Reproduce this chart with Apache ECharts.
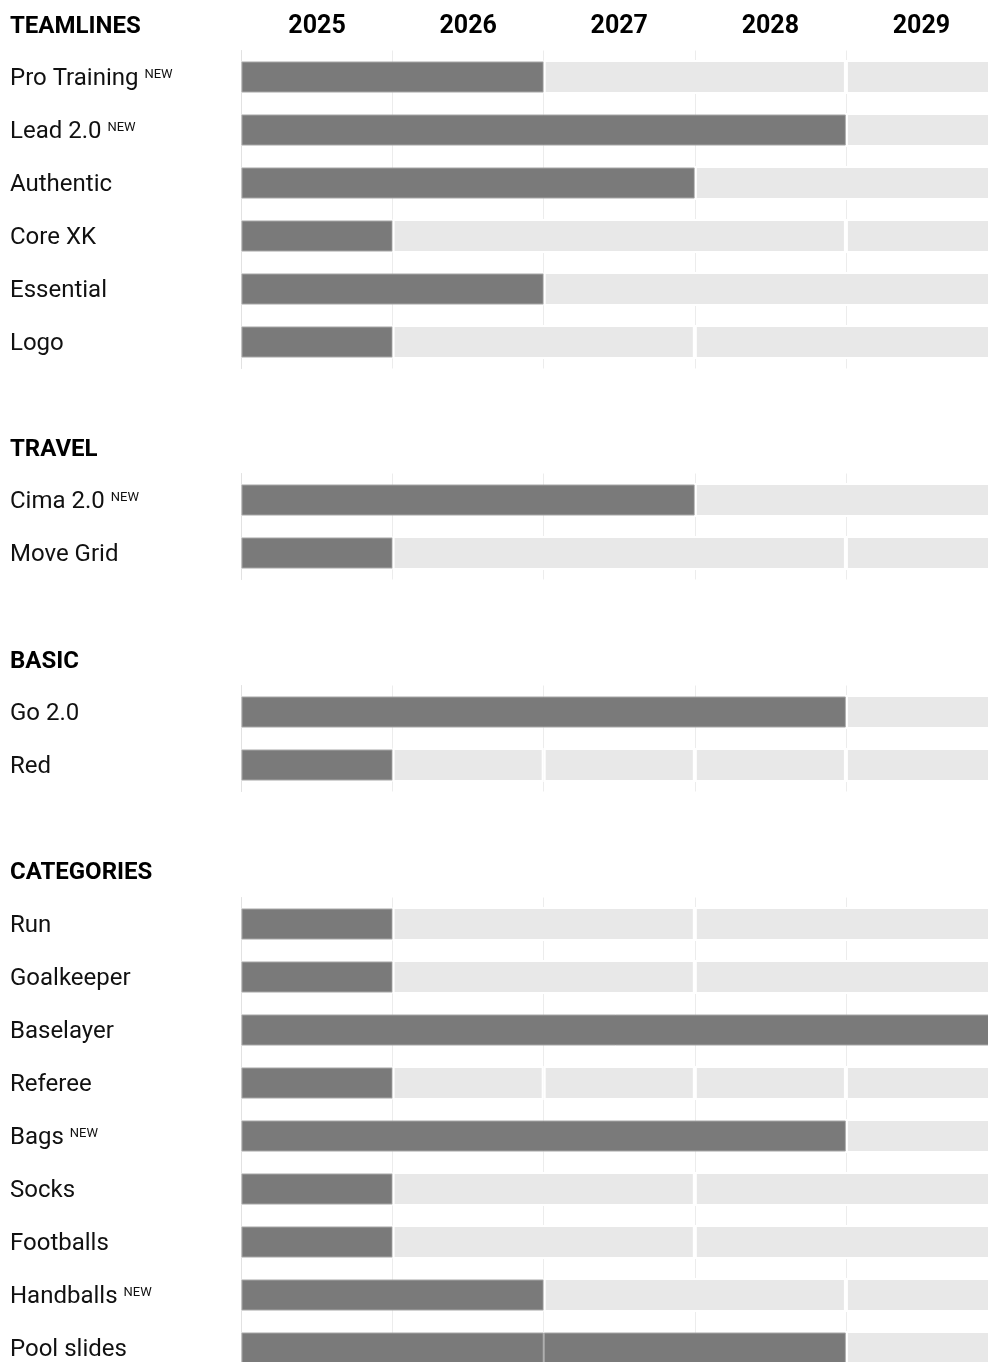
<!DOCTYPE html>
<html>
<head>
<meta charset="utf-8">
<script src="https://cdn.jsdelivr.net/npm/echarts@6/dist/echarts.min.js"></script>
<style>
  html, body { margin: 0; padding: 0; background: #ffffff; }
  #chart { width: 988px; height: 1362px; }
</style>
</head>
<body>
<div id="chart"></div>
<script>
// ---------- data ----------
const years = ['2025', '2026', '2027', '2028', '2029'];
const groupTitles = ['TEAMLINES', 'TRAVEL', 'BASIC', 'CATEGORIES'];

const teamlinesLabels = ['Pro Training', 'Lead 2.0', 'Authentic', 'Core XK', 'Essential', 'Logo'];
const teamlinesNew = [true, true, false, false, false, false];
const teamlinesDone = [[2], [4], [3], [1], [2], [1]];
const teamlinesPlanned = [[2, 1], [1], [2], [3, 1], [3], [2, 2]];

const travelLabels = ['Cima 2.0', 'Move Grid'];
const travelNew = [true, false];
const travelDone = [[3], [1]];
const travelPlanned = [[2], [3, 1]];

const basicLabels = ['Go 2.0', 'Red'];
const basicNew = [false, false];
const basicDone = [[4], [1]];
const basicPlanned = [[1], [1, 1, 1, 1]];

const categoriesLabels = ['Run', 'Goalkeeper', 'Baselayer', 'Referee', 'Bags', 'Socks', 'Footballs', 'Handballs', 'Pool slides'];
const categoriesNew = [false, false, false, false, true, false, false, true, false];
const categoriesDone = [[1], [1], [5], [1], [4], [1], [1], [2], [2, 2]];
const categoriesPlanned = [[2, 2], [2, 2], [], [1, 1, 1, 1], [1], [2, 2], [2, 2], [2, 1], [1]];

// ---------- layout / style ----------
const ROW = 53;
const GRID_LEFT = 241.5;
const GRID_WIDTH = 755.5;
const gridTops = [50.5, 473.5, 685.5, 897.5];
const titleTops = [13.5, 437, 649, 860];
const FONT = 'Roboto, "Noto Sans", sans-serif';
const DARK = '#7a7a7a';
const LIGHT = '#e8e8e8';

const groups = [
  { labels: teamlinesLabels, isNew: teamlinesNew, done: teamlinesDone, planned: teamlinesPlanned },
  { labels: travelLabels, isNew: travelNew, done: travelDone, planned: travelPlanned },
  { labels: basicLabels, isNew: basicNew, done: basicDone, planned: basicPlanned },
  { labels: categoriesLabels, isNew: categoriesNew, done: categoriesDone, planned: categoriesPlanned }
];

const grid = [], xAxis = [], yAxis = [], series = [], title = [];

groups.forEach((g, gi) => {
  grid.push({
    left: GRID_LEFT, width: GRID_WIDTH, top: gridTops[gi], height: ROW * g.labels.length,
    outerBoundsMode: 'none', containLabel: false
  });

  title.push({
    text: groupTitles[gi], left: 10, top: titleTops[gi], padding: 0,
    textStyle: { fontFamily: FONT, fontSize: 24, fontWeight: 'bold', color: '#000', lineHeight: 26 }
  });

  xAxis.push({
    gridIndex: gi, type: 'value', min: 0, max: 5, interval: 1, position: 'bottom',
    axisLabel: { show: false }, axisLine: { show: false }, axisTick: { show: false },
    splitLine: { show: true, lineStyle: { color: '#ececec', width: 1 } }
  });

  yAxis.push({
    gridIndex: gi, type: 'category', inverse: true, data: g.labels,
    axisLine: { show: true, lineStyle: { color: '#e2e2e2', width: 1 } },
    axisTick: { show: false },
    splitLine: { show: false },
    axisLabel: {
      align: 'left', margin: GRID_LEFT - 10, padding: [4, 0, 0, 0],
      formatter: (v, i) => g.isNew[i] ? '{n|' + v + ' }{s|NEW}' : '{n|' + v + '}',
      rich: {
        n: { fontFamily: FONT, fontSize: 24, color: '#111', lineHeight: 30 },
        s: { fontFamily: FONT, fontSize: 13, color: '#111', lineHeight: 14, padding: [0, 0, 8, 0] }
      }
    }
  });
  yAxis.push({ gridIndex: gi, type: 'category', inverse: true, data: g.labels, show: false });

  const maxDone = Math.max(...g.done.map(d => d.length));
  for (let k = 0; k < maxDone; k++) {
    series.push({
      type: 'bar', xAxisIndex: gi, yAxisIndex: gi * 2, stack: 'done' + gi, barWidth: 31,
      silent: true,
      data: g.done.map(d => (d[k] !== undefined ? d[k] : '-')),
      itemStyle: { color: DARK, borderColor: '#a6a6a6', borderWidth: 1 }
    });
  }
  series.push({
    type: 'bar', xAxisIndex: gi, yAxisIndex: gi * 2 + 1, stack: 'plan' + gi, barWidth: 34,
    silent: true,
    data: g.done.map(d => d.reduce((a, b) => a + b, 0)),
    itemStyle: { color: 'rgba(0,0,0,0)', borderWidth: 0 }
  });
  const maxPlan = Math.max(...g.planned.map(p => p.length));
  for (let k = 0; k < maxPlan; k++) {
    series.push({
      type: 'bar', xAxisIndex: gi, yAxisIndex: gi * 2 + 1, stack: 'plan' + gi, barWidth: 34,
      silent: true,
      data: g.planned.map(p => (p[k] !== undefined ? p[k] : '-')),
      itemStyle: { color: LIGHT, borderColor: '#ffffff', borderWidth: 2 }
    });
  }
});

// year header axis on the first grid
xAxis.push({
  gridIndex: 0, type: 'category', data: years, position: 'top', boundaryGap: true,
  axisLine: { show: false }, axisTick: { show: false }, splitLine: { show: false },
  axisLabel: { margin: 11, fontFamily: FONT, fontSize: 25, fontWeight: 'bold', color: '#000', lineHeight: 26 }
});

const chart = echarts.init(document.getElementById('chart'), null, { renderer: 'canvas' });
chart.setOption({
  animation: false,
  backgroundColor: '#ffffff',
  title, grid, xAxis, yAxis, series
});
</script>
</body>
</html>
